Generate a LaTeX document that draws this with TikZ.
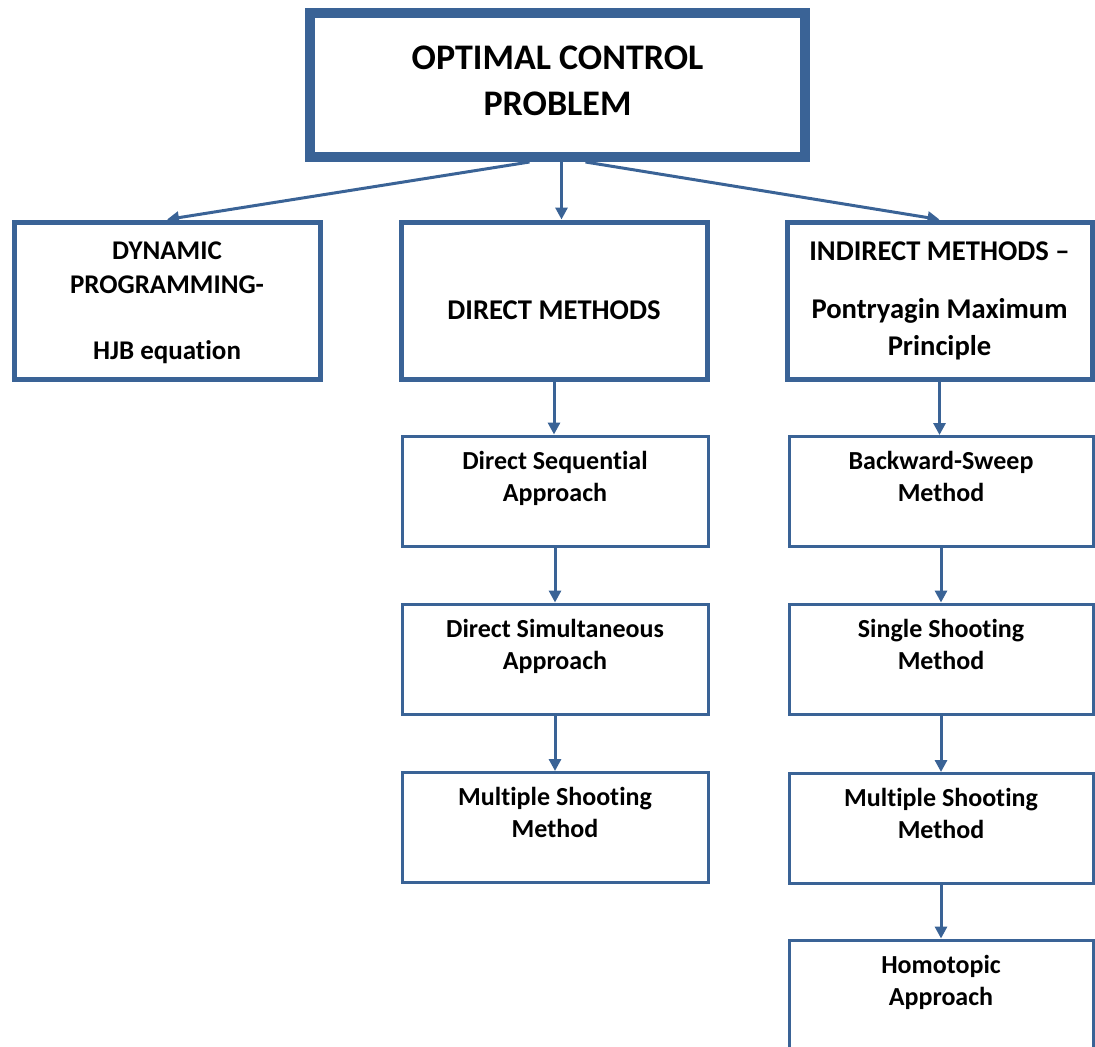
\documentclass[tikz,border=0pt]{standalone}
\usepackage{fontspec}
\setmainfont{Carlito}[Ligatures=NoCommon]
\usepackage{xcolor}
\usetikzlibrary{arrows.meta,positioning}

\definecolor{frameblue}{HTML}{3A6396}

\tikzset{
    bigbox/.style={draw=frameblue, line width=2.5pt, minimum width=153pt, minimum height=78.5pt},
    methodbox/.style={draw=frameblue, line width=1.5pt, minimum width=153pt, minimum height=55pt},
    boxtext/.style={inner sep=0pt, align=center, font=\fontsize{14.3}{17}\selectfont\bfseries},
    methodtext/.style={inner sep=0pt, align=center, font=\fontsize{13}{16}\selectfont\bfseries},
    flow/.style={draw=frameblue, line width=1.5pt, -{Triangle[length=6pt,width=6pt]}}
}

\begin{document}
\begin{tikzpicture}[x=0.5pt,y=-0.5pt]
                \useasboundingbox (0,0) rectangle (1095,1046);

                \node[
                    bigbox,
                    line width=5pt,
                    minimum width=247.5pt,
                    minimum height=72pt
                ] (ocp) at (557.5,85) {};
                \node[boxtext, font=\fontsize{18}{23}\selectfont\bfseries] (ocptext) at ([yshift=2pt]ocp.center) {OPTIMAL CONTROL\\PROBLEM};

                \node[bigbox] (dp) at (167,300.5) {};
                \node[boxtext, font=\fontsize{13.5}{17}\selectfont\bfseries] (dptext) at ([yshift=-1pt]dp.center) {DYNAMIC\\PROGRAMMING-\\[16pt]HJB equation};

                \node[bigbox] (direct) at (554,300.5) {};
                \node[boxtext] (directtext) at ([yshift=-5pt]direct.center) {DIRECT METHODS};

                \node[bigbox, minimum width=152.5pt] (indirect) at (939.5,300.5) {};
                \node[boxtext] (indirecttext) at (indirect) {INDIRECT METHODS --\\[12pt]Pontryagin Maximum\\[1.5pt]Principle};

                \node[methodbox] (seq) at (555,491) {};
                \node[methodtext, below=8pt of seq.north] (seqtext) {Direct Sequential\\Approach};

                \node[methodbox] (sim) at (555,659) {};
                \node[methodtext, below=8pt of sim.north] (simtext) {Direct Simultaneous\\Approach};

                \node[methodbox] (msd) at (555,827.5) {};
                \node[methodtext, below=8pt of msd.north] (msdtext) {Multiple Shooting\\Method};

                \node[methodbox, minimum width=152pt] (bws) at (941,491.5) {};
                \node[methodtext, below=8pt of bws.north] (bwstext) {Backward-Sweep\\Method};

                \node[methodbox, minimum width=152pt] (ssm) at (941,659) {};
                \node[methodtext, below=8pt of ssm.north] (ssmtext) {Single Shooting\\Method};

                \node[methodbox, minimum width=152pt] (msi) at (941,828.5) {};
                \node[methodtext, below=8pt of msi.north] (msitext) {Multiple Shooting\\Method};

                \node[methodbox, minimum width=152pt] (hom) at (941,995) {};
                \node[methodtext, below=8pt of hom.north] (homtext) {Homotopic\\Approach};

                \draw[flow] ([xshift=-14pt]ocp.south) -- (dp.north);
                \draw[flow] ([xshift=2pt]ocp.south) -- ([xshift=2pt]ocp.south |- direct.north);
                \draw[flow] ([xshift=14pt]ocp.south) -- (indirect.north);

                \foreach \from/\to in {direct/seq, seq/sim, sim/msd, indirect/bws, bws/ssm, ssm/msi, msi/hom}
                    \draw[flow] (\from.south) -- (\from.south |- \to.north);
\end{tikzpicture}
\end{document}
